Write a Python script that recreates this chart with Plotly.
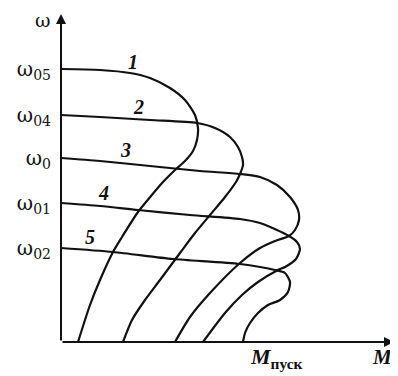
import plotly.graph_objects as go

# Mechanical characteristics omega(M), arbitrary units
m1 = [0, 39, 69, 89, 109, 124, 134, 137, 136, 132, 124, 114, 102, 90, 77, 61, 52, 39, 29, 17]
w1 = [273, 272, 269, 264, 254, 242, 227, 214, 202, 191, 181, 172, 160, 146, 130, 105, 90, 62, 37, 0]

m2 = [0, 39, 89, 136, 154, 169, 177, 181, 182, 179, 175, 164, 149, 134, 119, 99, 84, 71, 62]
w2 = [227, 225, 222, 219, 214, 205, 195, 185, 177, 168, 160, 145, 127, 109, 89, 62, 42, 22, 0]

m3 = [0, 39, 89, 139, 179, 199, 216, 229, 237, 238, 234, 228, 214, 199, 179, 149, 129, 114]
w3 = [184, 181, 176, 171, 168, 165, 157, 145, 132, 122, 112, 106, 101, 94, 79, 49, 25, 0]

m4 = [0, 39, 77, 129, 179, 199, 216, 228, 236, 239, 235, 224, 217, 197, 181, 164, 142]
w4 = [139, 136, 132, 127, 123, 119, 112, 106, 100, 93, 83, 75, 72, 60, 47, 29, 0]

m5 = [0, 52, 112, 179, 214, 224, 229, 227, 219, 207, 197, 189, 184, 182]
w5 = [94, 90, 83, 78, 72, 69, 60, 50, 42, 37, 29, 19, 9, 0]

curve_names = ["1", "2", "3", "4", "5"]
omega_ticks = [273, 227, 184, 139, 94]
omega_text = ["ω<sub>05</sub>", "ω<sub>04</sub>", "ω<sub>0</sub>", "ω<sub>01</sub>", "ω<sub>02</sub>"]

SERIF = "DejaVu Serif, Liberation Serif, serif"
TIMES = "Liberation Serif, Times New Roman, serif"
INK = "#111111"
XMAX, YMAX = 334, 330

fig = go.Figure()
for name, m, w in zip(curve_names, [m1, m2, m3, m4, m5], [w1, w2, w3, w4, w5]):
    fig.add_trace(go.Scatter(x=m, y=w, mode="lines", name=name,
                             line=dict(color=INK, width=2.2, shape="spline", smoothing=0.7),
                             hoverinfo="skip"))

# curve numbers
label_pos = [(72, 280), (77, 235), (64, 192), (42, 149), (29, 105)]
for name, (lx, ly) in zip(curve_names, label_pos):
    fig.add_annotation(x=lx, y=ly, text="<b><i>%s</i></b>" % name, showarrow=False,
                       font=dict(family=TIMES, size=20, color=INK))

# axes with arrows
fig.add_annotation(x=0, y=328, ax=0, ay=0, axref="x", ayref="y", xref="x", yref="y",
                   text="", showarrow=True, arrowhead=2, arrowsize=1, arrowwidth=2,
                   arrowcolor=INK)
fig.add_annotation(x=333, y=0, ax=0, ay=0, axref="x", ayref="y", xref="x", yref="y",
                   text="", showarrow=True, arrowhead=2, arrowsize=1, arrowwidth=2,
                   arrowcolor=INK)

# axis titles (paper coordinates so they can sit outside the plot area)
def px(v):
    return v / XMAX

def py(v):
    return v / YMAX

fig.add_annotation(x=px(-18), y=py(322), xref="paper", yref="paper", text="ω",
                   xanchor="center", yanchor="middle",
                   showarrow=False, font=dict(family=SERIF, size=19, color=INK))
fig.add_annotation(x=px(321), y=py(-15), xref="paper", yref="paper", text="<b><i>M</i></b>",
                   xanchor="center", yanchor="middle",
                   showarrow=False, font=dict(family=TIMES, size=21, color=INK))
fig.add_annotation(x=px(215), y=py(-16), xref="paper", yref="paper",
                   text="<b><i>M</i></b><sub><b>пуск</b></sub>",
                   xanchor="center", yanchor="middle",
                   showarrow=False, font=dict(family=TIMES, size=22, color=INK))

# page body has an 8px margin, so the figure is shrunk to fit the 398x376 window
fig.update_layout(
    width=390, height=368,
    margin=dict(l=53, r=3, t=4, b=34),
    paper_bgcolor="white", plot_bgcolor="white",
    showlegend=False,
    xaxis=dict(range=[0, XMAX], showgrid=False, zeroline=False, showline=False,
               showticklabels=False, ticks=""),
    yaxis=dict(range=[0, YMAX], showgrid=False, zeroline=False, showline=False,
               tickvals=omega_ticks, ticktext=omega_text, ticks="",
               ticklabelstandoff=9,
               tickfont=dict(family=SERIF, size=20, color=INK)),
)

fig.write_html("out.html")
